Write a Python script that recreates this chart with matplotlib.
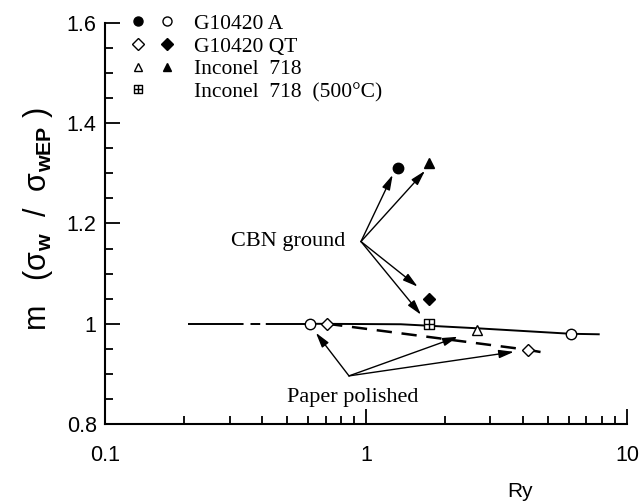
import numpy as np
import matplotlib.pyplot as plt
from matplotlib.path import Path
from matplotlib.lines import Line2D
from matplotlib.legend_handler import HandlerTuple

plt.rcParams['font.family'] = ['Liberation Sans', 'DejaVu Sans']
plt.rcParams['mathtext.fontset'] = 'custom'
plt.rcParams['mathtext.rm'] = 'Liberation Sans'
plt.rcParams['mathtext.bf'] = 'Liberation Sans:bold'
plt.rcParams['lines.scale_dashes'] = False

# Ry and m values
a_cbn_ry, a_cbn_m = [1.33], [1.31]
a_pol_ry, a_pol_m = [0.61, 6.1], [1.0, 0.98]
qt_pol_ry, qt_pol_m = [0.71, 4.17], [1.0, 0.948]
qt_cbn_ry, qt_cbn_m = [1.74], [1.049]
in_pol_ry, in_pol_m = [2.66], [0.988]
in_cbn_ry, in_cbn_m = [1.74], [1.32]
in500_ry, in500_m = [1.74], [1.0]

# trend lines
solid_ry = [0.61, 1.36, 2.66, 6.1, 7.8]
solid_m = [1.0, 0.999, 0.991, 0.98, 0.979]
lead_ry = [0.208, 0.61]
lead_m = [1.0, 1.0]
dash_ry = [0.71, 4.17, 5.0]
dash_m = [1.0, 0.948, 0.941]

# annotation arrows (source point, arrow tips)
cbn_src = (0.957, 1.164)
cbn_tips_ry = [1.266, 1.683, 1.578, 1.625]
cbn_tips_m = [1.297, 1.305, 1.074, 1.018]
pol_src = (0.861, 0.896)
pol_tips_ry = [0.643, 2.25, 3.69]
pol_tips_m = [0.982, 0.974, 0.944]

# square with a cross marker
sq_plus = Path([(-1, -1), (1, -1), (1, 1), (-1, 1), (-1, -1),
                (0, -1), (0, 1), (-1, 0), (1, 0)],
               [Path.MOVETO, Path.LINETO, Path.LINETO, Path.LINETO, Path.CLOSEPOLY,
                Path.MOVETO, Path.LINETO, Path.MOVETO, Path.LINETO])

fig = plt.figure(figsize=(6.41, 5.04), dpi=100)
ax = fig.add_axes([0.1638, 0.1587, 0.8142, 0.7957])

ax.plot(solid_ry, solid_m, color='k', lw=1.4, zorder=2)
ax.plot(lead_ry, lead_m, color='k', lw=1.4, zorder=2,
        linestyle=(0, (40, 5, 7, 4, 60, 0)))
ax.plot(dash_ry, dash_m, color='k', lw=1.8, zorder=2, linestyle=(0, (11, 7)))

mk = dict(ls='none', mec='k', mew=1.0, zorder=4)
ax.plot(a_cbn_ry, a_cbn_m, marker='o', ms=7.5, mfc='k', **mk)
ax.plot(a_pol_ry, a_pol_m, marker='o', ms=7.5, mfc='white', **mk)
ax.plot(qt_pol_ry, qt_pol_m, marker='D', ms=6.5, mfc='white', **mk)
ax.plot(qt_cbn_ry, qt_cbn_m, marker='D', ms=6.5, mfc='k', **mk)
ax.plot(in_pol_ry, in_pol_m, marker='^', ms=7, mfc='white', **mk)
ax.plot(in_cbn_ry, in_cbn_m, marker='^', ms=7, mfc='k', **mk)
ax.plot(in500_ry, in500_m, marker=sq_plus, ms=7, mfc='white', **mk)

arw = dict(arrowstyle='-|>,head_length=0.9,head_width=0.25', color='k', lw=1.0,
           shrinkA=0, shrinkB=0)
for tx, ty in zip(cbn_tips_ry, cbn_tips_m):
    ax.annotate('', xy=(tx, ty), xytext=cbn_src, arrowprops=arw, zorder=3)
for tx, ty in zip(pol_tips_ry, pol_tips_m):
    ax.annotate('', xy=(tx, ty), xytext=pol_src, arrowprops=arw, zorder=3)

ax.text(0.831, 1.164, 'CBN ground', family='Liberation Serif', fontsize=16,
        ha='right', va='center')
ax.text(0.892, 0.852, 'Paper polished', family='Liberation Serif', fontsize=16,
        ha='center', va='center')

ax.set_xscale('log')
ax.set_xlim(0.1, 10)
ax.set_ylim(0.8, 1.6)
ax.set_xticks([0.1, 1, 10])
ax.set_xticklabels(['0.1', '1', '10'])
ax.set_yticks([0.8, 1.0, 1.2, 1.4, 1.6])
ax.set_yticklabels(['0.8', '1', '1.2', '1.4', '1.6'])
ax.set_yticks(np.arange(0.85, 1.6, 0.05), minor=True)
ax.tick_params(which='both', direction='in', width=1.3, labelsize=15.5)
ax.tick_params(which='major', length=11)
ax.tick_params(which='minor', length=6)
ax.tick_params(axis='x', pad=15)
ax.tick_params(axis='y', pad=6)
for s in ['top', 'right']:
    ax.spines[s].set_visible(False)
for s in ['left', 'bottom']:
    ax.spines[s].set_linewidth(1.5)

ax.set_ylabel('m   (σ$_\\mathbf{w}$  /  σ$_\\mathbf{wEP}$ )', fontsize=22)
ax.yaxis.set_label_coords(-0.095, 0.51)
ax.set_xlabel('Ry', fontsize=15)
ax.xaxis.set_label_coords(0.795, -0.145)

blank = Line2D([], [], ls='none')
lk = dict(ls='none', mec='k', mew=1.0)
handles = [
    (Line2D([], [], marker='o', ms=6.5, mfc='k', **lk),
     Line2D([], [], marker='o', ms=6.5, mfc='white', **lk)),
    (Line2D([], [], marker='D', ms=6, mfc='white', **lk),
     Line2D([], [], marker='D', ms=6, mfc='k', **lk)),
    (Line2D([], [], marker='^', ms=5.5, mfc='white', **lk),
     Line2D([], [], marker='^', ms=5.5, mfc='k', **lk)),
    (Line2D([], [], marker=sq_plus, ms=5.5, mfc='white', **lk), blank),
]
labels = ['G10420 A', 'G10420 QT', 'Inconel  718', 'Inconel  718  (500°C)']
ax.legend(handles, labels, handler_map={tuple: HandlerTuple(ndivide=None, pad=0)},
          loc='upper left', bbox_to_anchor=(0.035, 1.0225), frameon=False,
          prop={'family': 'Liberation Serif', 'size': 15.5},
          handlelength=2.7, handletextpad=0.6, labelspacing=0.12,
          borderpad=0, borderaxespad=0)

fig.savefig('out.png', dpi=100)
